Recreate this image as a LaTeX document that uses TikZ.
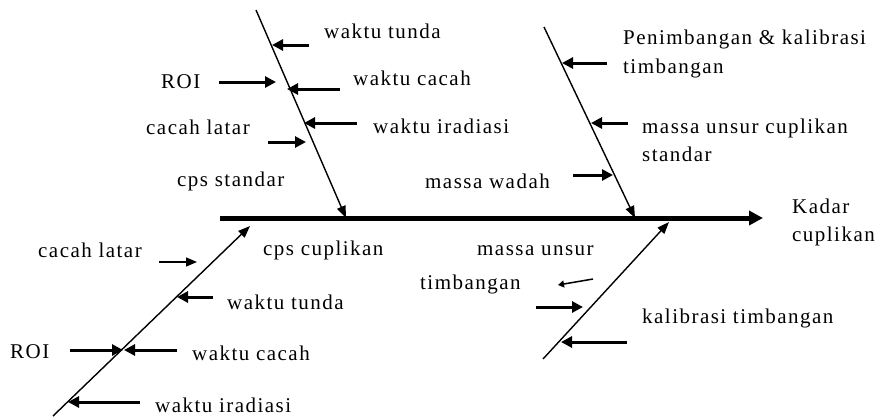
\documentclass[tikz,border=0pt]{standalone}
\usepackage{fontspec}
\setmainfont[LetterSpace=7]{Liberation Serif}
\usetikzlibrary{arrows.meta}
\begin{document}
\begin{tikzpicture}[x=1pt,y=-1pt,
  lbl/.style={anchor=west,inner sep=0pt,font=\fontsize{21}{24}\selectfont},
  spine/.style={line width=5pt,-{Triangle[length=14pt,width=14pt]}},
  bone/.style={line width=1.4pt,-{Triangle[length=12pt,width=9pt]}},
  cause/.style={line width=3pt,-{Triangle[length=11pt,width=11pt]}},
  thin cause/.style={line width=1.4pt,-{Triangle[length=11pt,width=9pt]}}]
\useasboundingbox (0,0) rectangle (877,416);
\fill[white] (0,0) rectangle (877,416);
% spine
\coordinate (s0) at (220,218);
\coordinate (s1) at (763,218);
\draw[spine] (s0) -- (s1);
\node[lbl] (kadar) at (792,206) {Kadar};
\node[lbl] (cupl) at (792,236) {cuplikan};
% bones
\coordinate (b1a) at (256,10);   \coordinate (b1b) at (346,218);
\coordinate (b2a) at (544,27);   \coordinate (b2b) at (635,218);
\coordinate (b3a) at (53,416);   \coordinate (b3b) at (250,226);
\coordinate (b4a) at (543,359);  \coordinate (b4b) at (669,222);
\draw[bone] (b1a) -- (b1b);
\draw[bone] (b2a) -- (b2b);
\draw[bone] (b3a) -- (b3b);
\draw[bone] (b4a) -- (b4b);
% upper-left bone
\node[lbl] (t1) at (324,31) {waktu tunda};
\coordinate (c1a) at (309,45); \coordinate (c1b) at (272,45);
\draw[cause] (c1a) -- (c1b);
\node[lbl] (t2) at (161,82) {ROI};
\coordinate (c2a) at (219,82); \coordinate (c2b) at (276,82);
\draw[cause] (c2a) -- (c2b);
\node[lbl] (t3) at (353,78) {waktu cacah};
\coordinate (c3a) at (340,89); \coordinate (c3b) at (287,89);
\draw[cause] (c3a) -- (c3b);
\node[lbl] (t4) at (146,127) {cacah latar};
\coordinate (c4a) at (268,142); \coordinate (c4b) at (306,142);
\draw[cause] (c4a) -- (c4b);
\begin{scope}
\clip (360,100) rectangle (520,133);
\node[lbl] (t5) at (373,126) {waktu iradiasi};
\end{scope}
\coordinate (c5a) at (357,123); \coordinate (c5b) at (304,123);
\draw[cause] (c5a) -- (c5b);
\node[lbl] (t6) at (177,181) {cps standar};
% upper-right bone
\node[lbl] (t7) at (623,39) {Penimbangan \& kalibrasi};
\node[lbl] (t8) at (623,68) {timbangan};
\coordinate (c7a) at (607,63); \coordinate (c7b) at (562,63);
\draw[cause] (c7a) -- (c7b);
\node[lbl] (t9) at (642,128) {massa unsur cuplikan};
\node[lbl] (t10) at (642,154) {standar};
\coordinate (c9a) at (628,123); \coordinate (c9b) at (591,123);
\draw[cause] (c9a) -- (c9b);
\node[lbl] (t11) at (425,181) {massa wadah};
\coordinate (c11a) at (573,175); \coordinate (c11b) at (613,175);
\draw[cause] (c11a) -- (c11b);
% lower-left bone
\node[lbl] (t12) at (38,250) {cacah latar};
\coordinate (c12a) at (159,262); \coordinate (c12b) at (197,262);
\draw[thin cause] (c12a) -- (c12b);
\node[lbl] (t13) at (263,250) {cps cuplikan};
\node[lbl] (t14) at (227,302) {waktu tunda};
\coordinate (c14a) at (213,297); \coordinate (c14b) at (177,297);
\draw[cause] (c14a) -- (c14b);
\node[lbl] (t15) at (10,352) {ROI};
\coordinate (c15a) at (70,350); \coordinate (c15b) at (123,350);
\draw[cause] (c15a) -- (c15b);
\node[lbl] (t16) at (192,353) {waktu cacah};
\coordinate (c16a) at (177,350); \coordinate (c16b) at (124,350);
\draw[cause] (c16a) -- (c16b);
\node[lbl] (t17) at (155,405) {waktu iradiasi};
\coordinate (c17a) at (140,402); \coordinate (c17b) at (68,402);
\draw[cause] (c17a) -- (c17b);
% lower-right bone
\begin{scope}
\clip (470,230) rectangle (600,255);
\node[lbl] (t18) at (477,251) {massa unsur};
\end{scope}
\node[lbl] (t19) at (420,284) {timbangan};
\coordinate (c19a) at (593,279); \coordinate (c19b) at (558,285);
\draw[line width=1.5pt,-{Triangle[length=6pt,width=7pt]}] (c19a) -- (c19b);
\coordinate (c20a) at (536,307); \coordinate (c20b) at (583,307);
\draw[cause] (c20a) -- (c20b);
\node[lbl] (t20) at (642,318) {kalibrasi timbangan};
\coordinate (c21a) at (627,342); \coordinate (c21b) at (561,342);
\draw[cause] (c21a) -- (c21b);
\end{tikzpicture}
\end{document}
